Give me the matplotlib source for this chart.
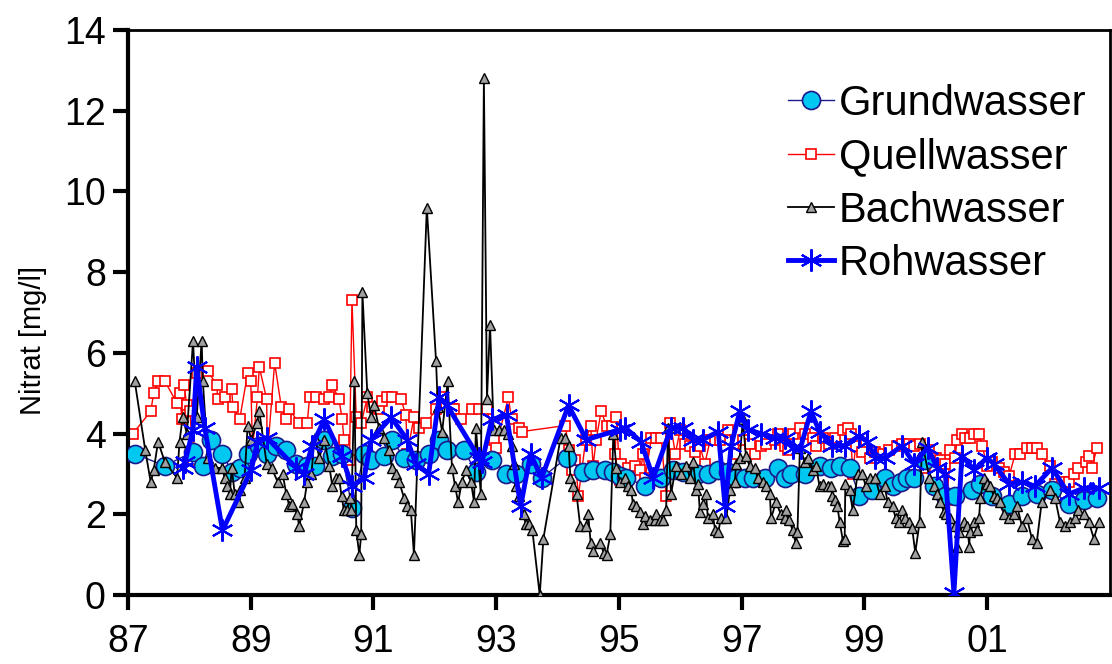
import matplotlib
matplotlib.use("Agg")
import matplotlib.pyplot as plt

plt.rcParams['font.family'] = ['Liberation Sans', 'DejaVu Sans']

# Time axis in decimal years (87 = 1987, 101 = 2001)
grund_t = [87.11, 87.60, 88.06, 88.22, 88.35, 88.54, 88.69, 88.82, 88.95, 89.14,
           89.27, 89.42, 89.58, 89.74, 89.92, 90.04, 90.20, 90.33, 90.49, 90.65,
           90.85, 90.96, 91.17, 91.30, 91.50, 91.69, 91.90, 92.07, 92.20, 92.47,
           92.67, 92.93, 93.16, 93.33, 93.56, 93.74, 94.15, 94.42, 94.58, 94.78,
           94.91, 95.02, 95.12, 95.43, 95.69, 95.88, 96.05, 96.29, 96.45, 96.62,
           96.78, 96.91, 97.05, 97.18, 97.38, 97.59, 97.70, 97.80, 98.03, 98.27,
           98.45, 98.60, 98.76, 98.92, 99.13, 99.33, 99.46, 99.59, 99.70, 99.81,
           99.99, 100.14, 100.32, 100.48, 100.76, 100.89, 101.08, 101.36, 101.57, 101.81,
           102.06, 102.33, 102.58, 102.79]
grund_v = [3.5, 3.2, 3.55, 3.2, 3.85, 3.5, 3.05, 3.15, 3.5, 3.7,
           3.5, 3.7, 3.6, 3.25, 3.2, 3.2, 3.85, 3.45, 3.5, 2.15,
           3.5, 3.35, 3.45, 3.85, 3.4, 3.35, 3.5, 3.85, 3.6, 3.6,
           3.05, 3.35, 3.0, 3.0, 3.25, 2.9, 3.4, 3.05, 3.1, 3.1,
           3.05, 2.95, 2.9, 2.7, 2.9, 3.1, 3.05, 3.0, 3.0, 3.1,
           3.05, 2.9, 2.9, 2.9, 2.9, 3.15, 2.9, 3.0, 3.0, 3.2,
           3.15, 3.2, 3.15, 2.45, 2.6, 2.9, 2.7, 2.8, 2.9, 2.9,
           3.35, 2.7, 2.45, 2.45, 2.6, 2.75, 2.45, 2.25, 2.45, 2.5,
           2.6, 2.25, 2.35, 2.4]

quell_t = [87.08, 87.37, 87.42, 87.49, 87.60, 87.80, 87.84, 87.88, 87.91, 87.96,
           88.01, 88.06, 88.12, 88.30, 88.45, 88.46, 88.58, 88.69, 88.71, 88.82,
           88.95, 89.00, 89.03, 89.11, 89.14, 89.26, 89.27, 89.39, 89.50, 89.58,
           89.63, 89.79, 89.92, 89.96, 90.07, 90.20, 90.28, 90.33, 90.44, 90.49,
           90.52, 90.61, 90.65, 90.72, 90.80, 90.90, 90.98, 91.09, 91.14, 91.22,
           91.30, 91.45, 91.53, 91.55, 91.66, 91.74, 91.86, 92.02, 92.12, 92.28,
           92.31, 92.42, 92.60, 92.72, 92.85, 92.96, 92.99, 93.20, 93.25, 93.37,
           93.42, 94.13, 94.18, 94.23, 94.29, 94.34, 94.46, 94.54, 94.58, 94.63,
           94.71, 94.80, 94.88, 94.94, 94.96, 95.02, 95.04, 95.15, 95.27, 95.35,
           95.40, 95.43, 95.53, 95.61, 95.69, 95.77, 95.84, 95.92, 96.00, 96.08,
           96.16, 96.24, 96.32, 96.40, 96.49, 96.57, 96.65, 96.78, 96.89, 97.02,
           97.13, 97.22, 97.31, 97.39, 97.54, 97.59, 97.70, 97.75, 97.83, 97.95,
           98.04, 98.16, 98.21, 98.32, 98.43, 98.53, 98.65, 98.73, 98.78, 98.81,
           98.86, 98.97, 99.10, 99.18, 99.30, 99.41, 99.54, 99.62, 99.73, 99.81,
           99.91, 99.99, 100.06, 100.16, 100.24, 100.32, 100.35, 100.40, 100.48, 100.51,
           100.59, 100.64, 100.72, 100.79, 100.87, 100.92, 101.00, 101.08, 101.20, 101.28,
           101.36, 101.46, 101.54, 101.65, 101.73, 101.81, 101.89, 102.02, 102.11, 102.22,
           102.33, 102.41, 102.49, 102.62, 102.66, 102.71, 102.79]
quell_v = [4.0, 4.55, 5.0, 5.3, 5.3, 4.75, 5.0, 4.35, 5.2, 4.7,
           4.55, 3.35, 5.5, 5.55, 5.2, 4.85, 4.9, 5.1, 4.65, 4.35,
           5.5, 5.3, 3.65, 4.9, 5.65, 4.85, 3.45, 5.75, 4.65, 4.35,
           4.6, 4.25, 4.25, 4.9, 4.9, 4.85, 4.9, 5.2, 4.85, 4.35,
           3.85, 3.35, 7.3, 4.4, 4.25, 4.9, 4.65, 4.6, 4.8, 4.9,
           4.9, 4.85, 4.45, 3.5, 4.4, 4.15, 4.25, 4.6, 4.9, 4.6,
           4.6, 4.35, 4.6, 4.6, 4.6, 3.85, 3.65, 4.9, 4.35, 4.15,
           4.05, 4.2, 3.6, 3.1, 3.35, 2.45, 3.85, 4.2, 3.2, 3.85,
           4.55, 4.2, 4.2, 3.5, 4.4, 2.85, 3.25, 3.15, 3.2, 3.1,
           3.5, 2.9, 3.9, 3.9, 3.9, 2.45, 4.25, 3.5, 4.1, 3.75,
           3.7, 3.55, 3.7, 3.25, 3.85, 3.85, 3.85, 4.1, 3.5, 3.85,
           3.75, 3.5, 3.7, 3.75, 3.85, 4.0, 3.7, 3.6, 4.0, 4.15,
           4.0, 3.9, 3.7, 3.9, 3.75, 3.9, 4.1, 4.15, 4.0, 3.0,
           3.7, 3.55, 3.4, 3.55, 3.5, 3.6, 3.7, 3.75, 3.75, 3.7,
           3.75, 3.15, 3.6, 3.4, 3.35, 3.25, 2.35, 3.6, 3.4, 3.85,
           4.0, 3.9, 3.9, 4.0, 4.0, 3.7, 3.2, 3.3, 3.15, 3.05,
           2.95, 3.5, 3.5, 3.65, 3.65, 3.65, 3.5, 3.2, 2.75, 2.8,
           2.8, 3.0, 3.15, 3.3, 3.45, 3.15, 3.65]

bach_t = [87.11, 87.28, 87.37, 87.42, 87.49, 87.60, 87.80, 87.84, 87.89, 87.96,
          88.06, 88.12, 88.20, 88.22, 88.30, 88.41, 88.53, 88.58, 88.61, 88.66,
          88.69, 88.74, 88.79, 88.82, 88.90, 88.95, 89.01, 89.10, 89.14, 89.26,
          89.34, 89.44, 89.52, 89.58, 89.63, 89.68, 89.76, 89.79, 89.87, 89.92,
          89.99, 90.04, 90.12, 90.20, 90.28, 90.33, 90.39, 90.44, 90.48, 90.52,
          90.57, 90.61, 90.64, 90.69, 90.72, 90.77, 90.80, 90.82, 90.90, 90.96,
          91.01, 91.09, 91.17, 91.26, 91.30, 91.37, 91.42, 91.50, 91.55, 91.61,
          91.66, 91.87, 92.02, 92.05, 92.12, 92.21, 92.28, 92.33, 92.38, 92.44,
          92.51, 92.59, 92.64, 92.67, 92.75, 92.80, 92.85, 92.90, 92.96, 93.04,
          93.12, 93.20, 93.25, 93.29, 93.32, 93.37, 93.45, 93.48, 93.53, 93.59,
          93.71, 93.77, 94.05, 94.13, 94.18, 94.21, 94.26, 94.31, 94.37, 94.46,
          94.50, 94.54, 94.58, 94.70, 94.75, 94.80, 94.86, 94.91, 94.96, 95.02,
          95.10, 95.15, 95.20, 95.23, 95.28, 95.35, 95.40, 95.43, 95.51, 95.59,
          95.61, 95.67, 95.72, 95.77, 95.80, 95.85, 95.93, 96.01, 96.10, 96.16,
          96.21, 96.26, 96.29, 96.32, 96.37, 96.42, 96.45, 96.53, 96.57, 96.62,
          96.66, 96.75, 96.81, 96.89, 96.91, 96.97, 97.02, 97.07, 97.13, 97.22,
          97.26, 97.35, 97.39, 97.46, 97.48, 97.56, 97.64, 97.70, 97.72, 97.78,
          97.83, 97.88, 97.91, 97.95, 98.03, 98.08, 98.16, 98.21, 98.27, 98.32,
          98.40, 98.45, 98.48, 98.53, 98.56, 98.60, 98.65, 98.68, 98.69, 98.76,
          98.81, 98.89, 98.97, 99.02, 99.10, 99.18, 99.25, 99.33, 99.38, 99.46,
          99.51, 99.57, 99.62, 99.67, 99.73, 99.78, 99.83, 99.90, 99.94, 100.06,
          100.14, 100.19, 100.24, 100.30, 100.33, 100.40, 100.48, 100.51, 100.55, 100.63,
          100.68, 100.71, 100.72, 100.79, 100.84, 100.87, 100.89, 100.95, 101.00, 101.05,
          101.11, 101.16, 101.21, 101.28, 101.36, 101.44, 101.49, 101.57, 101.65, 101.73,
          101.81, 101.89, 102.02, 102.11, 102.19, 102.27, 102.35, 102.43, 102.49, 102.58,
          102.66, 102.74, 102.82]
bach_v = [5.3, 3.6, 2.8, 3.1, 3.8, 3.3, 2.9, 3.8, 4.4, 4.0,
          6.3, 4.4, 6.3, 5.3, 3.4, 3.15, 3.15, 2.9, 2.7, 2.5,
          3.15, 2.5, 2.3, 2.6, 2.9, 4.2, 3.85, 4.25, 4.55, 3.25,
          3.15, 2.8, 3.0, 2.5, 2.2, 2.25, 2.0, 1.7, 2.3, 2.8,
          3.0, 3.9, 3.4, 3.85, 3.2, 2.7, 2.9, 2.9, 2.45, 2.1,
          2.1, 2.4, 2.1, 5.3, 1.6, 1.0, 1.5, 7.5, 5.0, 4.4,
          4.7, 4.15, 3.9, 3.6, 3.15, 3.0, 2.8, 2.4, 2.2, 2.1,
          1.0, 9.6, 5.8, 4.65, 4.05, 5.3, 3.15, 2.7, 2.3, 2.8,
          3.1, 2.8, 2.3, 4.15, 2.5, 12.8, 4.85, 6.7, 4.1, 4.1,
          4.1, 4.0, 3.7, 3.25, 2.7, 2.45, 2.0, 1.75, 1.75, 1.6,
          0.0, 1.4, 3.9, 3.9, 3.7, 2.9, 2.7, 2.5, 1.7, 1.7,
          2.0, 1.3, 1.1, 1.3, 1.05, 1.0, 1.5, 4.0, 3.15, 2.8,
          2.9, 2.7, 2.6, 2.25, 2.2, 2.05, 1.75, 1.95, 1.85, 1.85,
          2.0, 1.85, 1.85, 2.1, 4.15, 2.5, 3.2, 3.0, 3.2, 2.9,
          3.3, 2.6, 2.75, 2.05, 2.25, 2.5, 1.9, 2.0, 1.6, 1.55,
          1.9, 1.9, 2.6, 2.8, 3.25, 3.4, 4.35, 3.45, 3.2, 3.15,
          2.9, 2.8, 2.7, 2.5, 1.9, 2.3, 2.0, 1.9, 2.1, 1.85,
          1.6, 1.3, 1.55, 3.65, 3.3, 3.4, 3.1, 3.2, 2.7, 2.75,
          2.7, 2.7, 2.45, 2.35, 2.2, 1.8, 1.35, 1.4, 2.75, 2.6,
          2.1, 3.0, 3.0, 2.7, 2.9, 2.9, 2.5, 2.7, 2.3, 2.2,
          1.9, 1.8, 2.1, 1.9, 1.8, 1.65, 1.05, 1.8, 3.8, 2.9,
          2.7, 2.5, 2.3, 2.05, 2.0, 1.9, 1.7, 1.2, 1.55, 1.8,
          1.7, 1.2, 1.55, 1.8, 1.6, 1.9, 2.4, 2.9, 2.75, 2.7,
          2.45, 2.4, 2.3, 2.0, 1.9, 2.0, 2.2, 1.7, 1.9, 1.4,
          1.3, 2.3, 2.6, 2.4, 1.8, 1.7, 1.8, 1.9, 2.1, 2.0,
          1.8, 1.4, 1.8]

roh_t = [87.89, 87.93, 88.06, 88.12, 88.25, 88.54, 89.01, 89.11, 89.26, 89.74,
         89.87, 90.00, 90.20, 90.48, 90.65, 90.85, 90.96, 91.29, 91.55, 91.69,
         91.90, 92.07, 92.20, 92.72, 92.77, 92.93, 93.17, 93.40, 93.56, 93.74,
         94.18, 94.47, 95.02, 95.10, 95.36, 95.56, 95.85, 96.05, 96.21, 96.37,
         96.62, 96.73, 96.83, 96.97, 97.10, 97.31, 97.54, 97.70, 97.83, 97.96,
         98.13, 98.27, 98.48, 98.68, 98.92, 99.05, 99.18, 99.34, 99.62, 99.81,
         100.03, 100.19, 100.32, 100.46, 100.59, 100.79, 101.00, 101.11, 101.36, 101.57,
         101.78, 102.06, 102.33, 102.58, 102.82]
roh_v = [3.15, 3.3, 4.1, 5.65, 4.15, 1.6, 3.1, 3.8, 3.9, 3.15,
         3.0, 3.7, 4.35, 3.45, 2.7, 2.9, 3.85, 4.4, 3.85, 3.25,
         3.0, 4.9, 4.7, 3.4, 3.3, 4.35, 4.45, 2.2, 3.5, 2.9,
         4.7, 3.85, 4.1, 4.15, 3.8, 2.9, 4.15, 4.15, 3.85, 3.85,
         4.05, 2.2, 3.7, 4.55, 4.1, 4.0, 3.9, 3.9, 3.65, 3.65,
         4.55, 4.05, 3.7, 3.7, 3.95, 3.8, 3.4, 3.4, 3.7, 3.25,
         3.65, 3.15, 3.0, 0.05, 3.45, 3.1, 3.4, 3.25, 2.75, 2.8,
         2.7, 3.15, 2.5, 2.65, 2.65]

year_ticks = [87, 89, 91, 93, 95, 97, 99, 101]

fig = plt.figure(figsize=(11.12, 6.64), dpi=100)
ax = fig.add_axes([0.1151, 0.1039, 0.8829, 0.8509])

ax.plot(quell_t, quell_v, color='red', lw=1.0, marker='s', ms=6.5,
        mfc='white', mec='red', mew=1.2, label='Quellwasser', zorder=2)
ax.plot(grund_t, grund_v, color='#1a1a8c', lw=1.0, marker='o', ms=13,
        mfc='#00c8f0', mec='#1a1a8c', mew=1.2, label='Grundwasser', zorder=3)
ax.plot(bach_t, bach_v, color='black', lw=1.3, marker='^', ms=7,
        mfc='#a0a0a0', mec='black', mew=1.0, label='Bachwasser', zorder=4)
ax.plot(roh_t, roh_v, color='#0000ff', lw=3.5, marker=(6, 2, 0), ms=16,
        mec='#0000ff', mew=1.5, label='Rohwasser', zorder=5)

ax.set_xlim(87, 103)
ax.set_ylim(0, 14)
ax.set_xticks(year_ticks)
ax.set_xticklabels([f"{t % 100:02d}" for t in year_ticks])
ax.set_yticks(range(0, 15, 2))
ax.tick_params(axis='both', direction='out', length=11, width=3, labelsize=27)
ax.tick_params(axis='x', pad=10)
ax.tick_params(axis='y', pad=5)
ax.set_ylabel('Nitrat [mg/l]', fontsize=21)
ax.yaxis.set_label_coords(-0.083, 0.45)

for side in ['left', 'bottom']:
    ax.spines[side].set_linewidth(3)
for side in ['top', 'right']:
    ax.spines[side].set_linewidth(2)

handles, labels = ax.get_legend_handles_labels()
order = [1, 0, 2, 3]
fig.legend([handles[i] for i in order], [labels[i] for i in order],
           loc='upper left', bbox_to_anchor=(788 / 1112, 1 - 84 / 664),
           frameon=False, borderpad=0, borderaxespad=0,
           fontsize=30, handlelength=1.1, handletextpad=0.12, labelspacing=0.32)

fig.savefig('out.png', dpi=100)
